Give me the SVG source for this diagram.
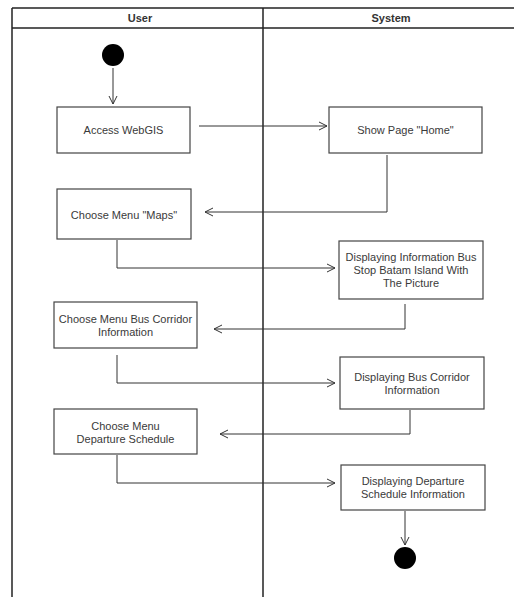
<svg xmlns="http://www.w3.org/2000/svg" width="514" height="597" viewBox="0 0 514 597">
<defs>
<marker id="arr" markerWidth="10" markerHeight="10" refX="9" refY="5" orient="auto" markerUnits="userSpaceOnUse">
<path d="M1,1 L9,5 L1,9" fill="none" stroke="#333" stroke-width="1"/>
</marker>
<style>
.box{fill:#fff;stroke:#444;stroke-width:1.2}
.t{font-family:"Liberation Sans",Arial,sans-serif;font-size:11px;fill:#3a3a3a;text-anchor:middle}
.h{font-family:"Liberation Sans",Arial,sans-serif;font-size:11px;font-weight:bold;fill:#333;text-anchor:middle}
.edge{fill:none;stroke:#333;stroke-width:1;marker-end:url(#arr)}
.lane{stroke:#222;stroke-width:1.5;fill:none}
</style>
</defs>
<rect width="514" height="597" fill="#fff"/>
<g id="swimlanes">
<line class="lane" x1="12" y1="8" x2="514" y2="8"/>
<line class="lane" x1="12" y1="28" x2="514" y2="28"/>
<line class="lane" x1="12" y1="8" x2="12" y2="597"/>
<line class="lane" x1="263" y1="8" x2="263" y2="597"/>
<text class="h" x="140" y="22">User</text>
<text class="h" x="391" y="22">System</text>
</g>
<g id="connectors">
<path class="edge" d="M113,68 L113,104"/>
<path class="edge" d="M199,126 L327,126"/>
<path class="edge" d="M387,155 L387,212 L205,212"/>
<path class="edge" d="M117,240 L117,268 L335,268"/>
<path class="edge" d="M405,304 L405,329 L214,329"/>
<path class="edge" d="M117,355 L117,383 L335,383"/>
<path class="edge" d="M410,410 L410,434 L220,434"/>
<path class="edge" d="M117,455 L117,483 L335,483"/>
<path class="edge" d="M405,511 L405,545"/>
</g>
<g id="start"><circle cx="113" cy="55" r="11" fill="#000"/></g>
<g id="access">
<rect class="box" x="57" y="107" width="133" height="46"/>
<text class="t" x="123.5" y="134">Access WebGIS</text>
</g>
<g id="home">
<rect class="box" x="329" y="107" width="153" height="46"/>
<text class="t" x="405.5" y="134">Show Page "Home"</text>
</g>
<g id="maps">
<rect class="box" x="57" y="189" width="134" height="50"/>
<text class="t" x="124" y="219">Choose Menu "Maps"</text>
</g>
<g id="busstop">
<rect class="box" x="339" y="241" width="144" height="58"/>
<text class="t" x="411" y="261">Displaying Information Bus</text>
<text class="t" x="411" y="274">Stop Batam Island With</text>
<text class="t" x="411" y="287">The Picture</text>
</g>
<g id="corridor">
<rect class="box" x="54" y="302" width="143" height="46"/>
<text class="t" x="125.5" y="323">Choose Menu Bus Corridor</text>
<text class="t" x="125.5" y="336">Information</text>
</g>
<g id="showcorridor">
<rect class="box" x="340" y="357" width="144" height="52"/>
<text class="t" x="412" y="381">Displaying Bus Corridor</text>
<text class="t" x="412" y="394">Information</text>
</g>
<g id="departure">
<rect class="box" x="54" y="409" width="143" height="45"/>
<text class="t" x="125.5" y="430">Choose Menu</text>
<text class="t" x="125.5" y="443">Departure Schedule</text>
</g>
<g id="showdeparture">
<rect class="box" x="341" y="465" width="144" height="45"/>
<text class="t" x="413" y="485">Displaying Departure</text>
<text class="t" x="413" y="498">Schedule Information</text>
</g>
<g id="end"><circle cx="405" cy="558" r="11" fill="#000"/></g>
</svg>
